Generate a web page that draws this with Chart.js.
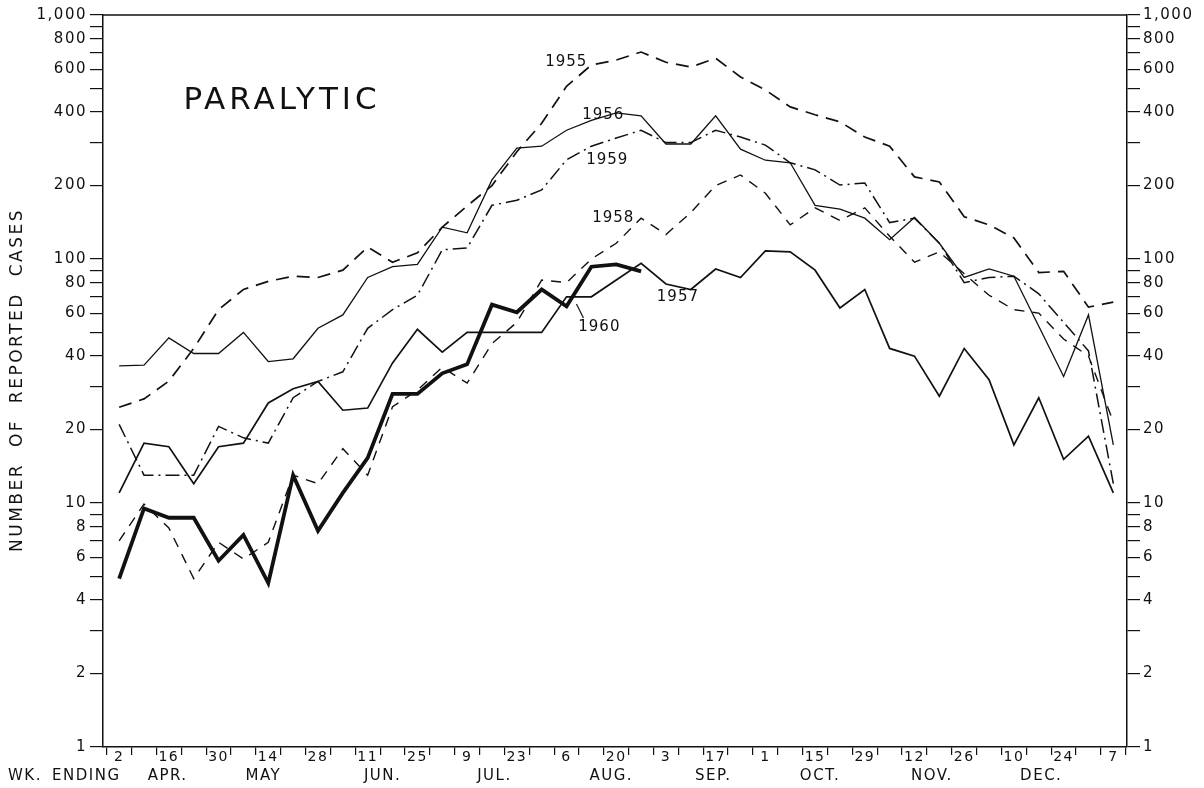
<!DOCTYPE html>
<html>
<head>
<meta charset="utf-8">
<script src="https://cdn.jsdelivr.net/npm/chart.js@4.4.0/dist/chart.umd.min.js"></script>
<style>
  html, body { margin: 0; padding: 0; background: #fff; }
  #wrap { width: 1204px; height: 788px; position: relative; }
</style>
</head>
<body>
<div id="wrap"><canvas id="myChart"></canvas></div>
<script>
// week ending dates, Apr 2 to Jan 7
const weeks = ['2','9','16','23','30','7','14','21','28','4','11','18','25','2','9','16','23','30',
  '6','13','20','27','3','10','17','24','1','8','15','22','29','5','12','19','26','3','10','17','24','31','7'];

const y1955 = [24.7,26.7,31.6,43,62,75,81,85,84,90, 112,97,106,135,165,200,275,360,510,624,
  654,705,640,612,665,557,493,420,390,365, 316,290,217,207,149,138,122,88,89,63.5, 66.6];
const y1956 = [36.5,36.7,47.5,41,41,50,38,39,52,59, 84,93,95,135,128,211,285,290,337,370,
  397,386,296,296,386,282,254,248,166,160, 147,120,148,116,84,91,85,53,33,59, 17.3];
const y1957 = [11,17.6,17,12,17,17.6,25.7,29.4,31.5,24, 24.5,37.5,51.5,41.5,50,50,50,50,70,70,
  82,96,79,75,91,84,108,107,90,63, 75,43,40,27.4,43,32,17.3,27,15.1,18.8, 11];
const y1958 = [7,9.9,7.9,4.9,6.9,5.9,6.9,13,12,16.7, 13,24.8,29,36,31,45,55,82,80,100,
  116,147,126,155,200,221,186,138,162,144, 162,124,97,107,87,71,62,60,47,40, 21.5];
const y1959 = [21,13,13,13,20.6,18.5,17.6,27,31.5,34.5, 52,62,71,109,111,166,174,192,255,290,
  313,337,300,300,337,316,293,248,232,201, 205,141,147,116,80,84,85,72,55,42, 12];
const y1960 = [4.9,9.5,8.7,8.7,5.8,7.4,4.7,13,7.7,11, 15.3,28,28,34,37,65,60.5,75,64,93, 95,89];

const months = ['APR.','MAY','JUN.','JUL.','AUG.','SEP.','OCT.','NOV.','DEC.'];
const monthPos = [1.95,5.8,10.6,15.1,19.8,23.9,28.2,32.7,37.1];

// log axis ticks, labels only on 1,2,4,6,8
const logTicks = [];
[1,10,100].forEach(d => { for (let m=1;m<=9;m++) logTicks.push(m*d); });
logTicks.push(1000);
function fmtTick(v){
  const m = v / Math.pow(10, Math.floor(Math.log10(v)+1e-9));
  const r = Math.round(m);
  if (v === 1000) return '1,000';
  if (r===1||r===2||r===4||r===6||r===8) return String(v);
  return '';
}

// x ticks: integers carry labels, half steps carry the tick marks
const xTicks = [];
for (let i=0;i<=40;i++){ xTicks.push(i-0.5); xTicks.push(i); }
xTicks.push(40.5);

const ink = '#111';
const fontFam = '"DejaVu Sans", sans-serif';

const seriesLabels = [
  {text:'1955', i:17.99, v:641},
  {text:'1956', i:19.48, v:389},
  {text:'1959', i:19.64, v:255},
  {text:'1958', i:19.88, v:147},
  {text:'1957', i:22.48, v:70},
  {text:'1960', i:19.32, v:52.6}
];

const spacing = {
  id: 'spacing',
  beforeDraw(chart){ chart.ctx.letterSpacing = '1.5px'; }
};

const extras = {
  id: 'extras',
  afterDraw(chart){
    const ctx = chart.ctx, a = chart.chartArea, x = chart.scales.x, y = chart.scales.y;
    ctx.save();
    ctx.strokeStyle = ink; ctx.lineWidth = 1.5;
    ctx.beginPath(); ctx.moveTo(a.left, a.top); ctx.lineTo(a.right, a.top); ctx.stroke();
    ctx.fillStyle = ink;
    ctx.textAlign = 'center'; ctx.textBaseline = 'middle';
    // title
    ctx.font = '31px ' + fontFam;
    ctx.letterSpacing = '4px';
    ctx.fillText('PARALYTIC', 282, 101);
    // series names
    ctx.font = '15px ' + fontFam;
    ctx.letterSpacing = '1px';
    seriesLabels.forEach(s => ctx.fillText(s.text, x.getPixelForValue(s.i), y.getPixelForValue(s.v)));
    ctx.lineWidth = 1.2;
    ctx.beginPath();
    ctx.moveTo(x.getPixelForValue(18.4), y.getPixelForValue(65.4));
    ctx.lineTo(x.getPixelForValue(18.68), y.getPixelForValue(57.3));
    ctx.stroke();
    // month row
    ctx.font = '15px ' + fontFam;
    ctx.letterSpacing = '1.5px';
    monthPos.forEach((p, k) => ctx.fillText(months[k], x.getPixelForValue(p), 776));
    ctx.textAlign = 'left';
    ctx.fillText('WK.', 8, 776);
    ctx.fillText('ENDING', 52, 776);
    // y title
    ctx.translate(18, 380);
    ctx.rotate(-Math.PI/2);
    ctx.textAlign = 'center';
    ctx.font = '17px ' + fontFam;
    ctx.letterSpacing = '2.5px';
    ctx.fillText('NUMBER  OF  REPORTED  CASES', 0, 0);
    ctx.restore();
  }
};

function yScale(pos, w){
  return {
    type: 'logarithmic', position: pos, min: 1, max: 1000,
    afterBuildTicks: s => { s.ticks = logTicks.map(v => ({value: v})); },
    afterFit: s => { s.width = w; },
    border: {color: ink, width: 1.5},
    grid: {drawOnChartArea: false, tickLength: 13, color: ink, lineWidth: 1.2},
    ticks: {autoSkip: false, callback: v => fmtTick(v), color: ink, padding: 3,
      font: {family: fontFam, size: 15}}
  };
}

const mk = (label, vals, width, dash) => ({
  label, data: vals.map((v, i) => ({x: i, y: v})), borderColor: ink, borderWidth: width,
  borderDash: dash, pointRadius: 0, tension: 0, fill: false
});

const config = {
  type: 'line',
  data: {
    datasets: [
      mk('1955', y1955, 1.7, [13, 8]),
      mk('1956', y1956, 1.3, []),
      mk('1957', y1957, 1.7, []),
      mk('1958', y1958, 1.4, [10, 8]),
      mk('1959', y1959, 1.5, [14, 5, 2, 5]),
      mk('1960', y1960, 3.8, [])
    ]
  },
  options: {
    responsive: true, maintainAspectRatio: false, animation: false,
    layout: {padding: {top: 15, left: 0, right: 0, bottom: 0}},
    plugins: {legend: {display: false}, tooltip: {enabled: false}},
    scales: {
      x: {
        type: 'linear', min: -0.65, max: 40.55,
        afterBuildTicks: s => { s.ticks = xTicks.map(v => ({value: v})); },
        afterFit: s => { s.height = 41; },
        border: {color: ink, width: 1.5},
        grid: {drawOnChartArea: false, tickLength: 8, lineWidth: 1.2,
          color: c => (c.tick && c.tick.value % 1 !== 0) ? ink : 'rgba(0,0,0,0)'},
        ticks: {autoSkip: false, maxRotation: 0, color: ink, padding: -6,
          font: {family: fontFam, size: 14},
          callback: v => (Number.isInteger(v) && v % 2 === 0) ? weeks[v] : ''}
      },
      y: yScale('left', 103),
      y2: yScale('right', 77)
    }
  },
  plugins: [spacing, extras]
};

const myChart = new Chart(document.getElementById('myChart'), config);
</script>
</body>
</html>
